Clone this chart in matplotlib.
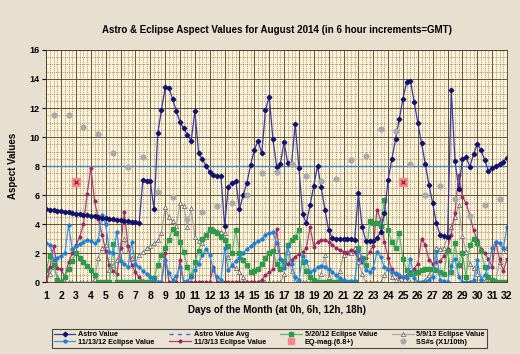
import matplotlib
matplotlib.use("Agg")
import matplotlib.pyplot as plt
from matplotlib.lines import Line2D
import numpy as np

plt.rcParams['font.family'] = ['Liberation Sans', 'DejaVu Sans']
plt.rcParams['font.weight'] = 'bold'

# one value every 6 hours, 1 Aug 0h .. 32 (1 Sep 0h)
days = np.arange(125) / 4.0 + 1

astro = [5.05, 5.01, 4.97, 4.93, 4.89, 4.86, 4.82, 4.78,
         4.74, 4.70, 4.67, 4.63, 4.59, 4.55, 4.51, 4.47,
         4.44, 4.40, 4.36, 4.32, 4.28, 4.24, 4.21, 4.17,
         4.13, 4.09, 7.05, 7.00, 6.95, 5.03, 10.27, 11.87,
         13.43, 13.40, 12.60, 11.80, 11.02, 10.60, 10.15, 9.74,
         11.80, 8.89, 8.48, 8.02, 7.60, 7.40, 7.35, 7.35,
         3.90, 6.60, 6.85, 7.00, 5.04, 6.02, 6.85, 8.09,
         9.12, 9.74, 8.89, 11.87, 12.79, 9.85, 7.97, 8.16,
         9.65, 8.20, 8.16, 10.90, 7.90, 4.69, 4.07, 5.33,
         6.66, 8.02, 6.55, 4.99, 3.60, 3.04, 3.00, 3.00,
         3.00, 2.97, 2.97, 2.95, 6.14, 3.84, 2.88, 2.88,
         2.88, 3.04, 3.50, 4.76, 7.05, 8.48, 9.85, 11.23,
         12.65, 13.80, 13.89, 12.44, 11.00, 9.58, 8.16, 6.71,
         5.45, 4.07, 3.27, 3.20, 3.10, 13.25, 8.38, 6.40,
         8.52, 8.61, 7.97, 8.82, 9.53, 9.12, 8.43, 7.65,
         7.86, 8.02, 8.16, 8.31, 8.57]
astro_avg = 8.0

ecl_5_20_12 = [0.86, 1.85, 1.20, 0.20, 0.05, 0.40, 0.95, 1.50,
               2.05, 1.70, 1.40, 1.15, 0.86, 0.50, 0.00, 0.00,
               0.00, 0.00, 2.65, 0.00, 0.00, 0.00, 0.00, 0.00,
               0.00, 0.00, 0.00, 0.00, 0.00, 0.30, 1.20, 1.90,
               2.35, 2.90, 3.70, 3.40, 2.80, 2.10, 1.04, 0.45,
               1.40, 2.20, 3.00, 3.30, 3.70, 3.55, 3.40, 3.15,
               2.90, 2.50, 2.00, 3.60, 2.05, 1.55, 1.20, 0.75,
               0.80, 0.90, 1.30, 1.70, 2.05, 2.20, 1.30, 0.90,
               1.50, 2.60, 2.90, 3.10, 3.60, 1.40, 0.80, 0.40,
               0.15, 0.05, 0.00, 0.00, 0.00, 0.00, 0.00, 0.00,
               0.00, 0.00, 0.00, 0.00, 2.35, 1.70, 1.20, 4.20,
               4.10, 4.07, 3.90, 5.70, 3.60, 2.80, 2.40, 3.40,
               1.60, 0.86, 0.60, 0.65, 0.75, 0.85, 0.90, 0.95,
               0.90, 0.85, 0.75, 0.60, 2.20, 0.70, 2.70, 1.20,
               2.00, 0.40, 2.60, 3.00, 2.70, 2.20, 1.10, 0.40,
               0.15, 0.05, 0.00, 0.00, 0.00]

ecl_5_9_13 = [0.00, 0.60, 1.10, 0.40, 0.00, 0.00, 0.00, 0.00,
              0.00, 0.00, 0.00, 0.00, 0.00, 0.25, 1.70, 2.35,
              2.60, 0.86, 1.20, 1.55, 2.20, 3.00, 2.20, 1.70,
              1.30, 1.90, 2.10, 2.35, 2.50, 2.70, 2.90, 3.40,
              5.17, 4.50, 4.20, 3.90, 5.45, 5.26, 3.84, 5.10,
              3.10, 2.88, 2.74, 3.15, 3.60, 3.70, 3.55, 3.50,
              3.40, 1.73, 1.20, 0.97, 0.75, 0.40, 0.06, 0.00,
              0.00, 0.00, 0.00, 0.00, 0.00, 0.00, 0.00, 0.00,
              0.60, 2.12, 0.80, 0.10, 0.00, 0.00, 0.00, 0.00,
              0.00, 0.00, 0.60, 1.90, 0.40, 0.00, 0.00, 0.80,
              1.90, 2.10, 2.00, 2.40, 1.40, 0.60, 0.00, 0.00,
              0.00, 0.00, 0.00, 0.50, 1.00, 0.40, 0.20, 0.10,
              0.00, 0.00, 0.00, 0.00, 0.00, 0.00, 0.20, 0.50,
              0.90, 2.40, 2.30, 2.40, 3.10, 3.80, 4.50, 5.30,
              3.20, 2.10, 1.30, 1.00, 0.60, 0.30, 0.10, 0.00,
              0.00, 0.20, 1.40, 2.20, 2.40]

ecl_11_13_12 = [2.70, 2.60, 1.55, 1.70, 1.85, 2.00, 3.95, 2.30,
                2.50, 2.65, 2.80, 2.95, 2.85, 2.70, 2.90, 4.65,
                4.00, 2.10, 2.00, 3.45, 1.50, 1.30, 1.05, 2.80,
                1.30, 1.05, 0.80, 0.60, 0.40, 0.20, 0.05, 0.00,
                1.55, 0.65, 0.20, 0.45, 1.05, 0.05, 0.10, 0.40,
                0.85, 1.30, 1.90, 2.30, 1.90, 0.85, 0.40, 0.15,
                2.35, 0.85, 1.20, 1.50, 1.70, 2.00, 2.30, 2.50,
                2.70, 2.85, 3.00, 3.30, 3.40, 3.45, 2.70, 1.60,
                1.00, 2.50, 1.30, 0.40, 0.17, 1.80, 1.50, 0.75,
                0.86, 1.04, 1.13, 1.10, 0.90, 0.75, 0.50, 0.30,
                0.17, 0.06, 0.10, 0.10, 2.20, 1.65, 0.85, 0.75,
                1.00, 2.10, 1.75, 1.05, 0.90, 0.75, 0.65, 0.50,
                0.40, 0.30, 1.65, 0.30, 0.05, 0.05, 0.05, 0.15,
                0.40, 2.10, 0.15, 0.10, 0.05, 1.15, 1.65, 0.40,
                0.05, 0.05, 0.05, 0.15, 1.55, 0.15, 0.50, 1.10,
                2.35, 2.80, 2.70, 2.35, 3.80]

ecl_11_3_13 = [0.00, 1.05, 2.50, 1.00, 0.90, 0.40, 1.40, 2.00,
               2.55, 3.15, 4.00, 6.10, 7.90, 5.60, 4.40, 3.30,
               2.20, 1.20, 0.80, 0.60, 2.40, 4.85, 2.50, 1.20,
               0.70, 0.35, 0.10, 0.00, 0.00, 0.00, 0.00, 0.00,
               2.05, 0.00, 0.00, 0.00, 1.55, 0.00, 0.00, 0.00,
               0.00, 0.00, 0.00, 0.00, 0.00, 1.10, 0.00, 0.00,
               0.00, 0.00, 0.00, 0.00, 0.00, 0.00, 0.00, 0.00,
               0.00, 0.00, 0.20, 0.50, 0.70, 0.90, 3.70, 1.60,
               1.10, 1.30, 1.55, 1.78, 1.96, 2.10, 2.35, 3.84,
               2.47, 2.80, 2.92, 2.92, 2.80, 2.58, 2.35, 2.24,
               2.12, 2.05, 2.25, 2.10, 1.60, 1.43, 1.70, 2.10,
               2.50, 5.00, 4.30, 2.80, 1.70, 0.90, 0.60, 0.40,
               0.35, 0.50, 0.70, 0.95, 1.30, 3.00, 2.60, 1.55,
               1.30, 1.40, 1.50, 1.80, 2.30, 3.30, 4.80, 7.40,
               5.90, 5.45, 4.60, 3.60, 2.90, 2.30, 2.00, 1.60,
               1.10, 2.80, 1.60, 0.80, 1.60]

eq_days = [3.0, 25.0]
eq_mag = [6.9, 6.9]

ss_days = [1.5, 2.5, 3.5, 4.5, 5.5, 6.5, 7.5, 8.5, 9.5, 10.5, 11.5,
           12.5, 13.5, 14.5, 15.5, 16.5, 17.5, 18.5, 19.5, 20.5, 21.5,
           22.5, 23.5, 24.5, 25.5, 26.5, 27.5, 28.5, 29.5, 30.5, 31.5]
ss_vals = [11.53, 11.53, 10.72, 10.22, 8.93, 7.93, 8.62, 6.20, 5.88, 4.40,
           4.87, 5.26, 5.49, 6.02, 7.53, 7.63, 8.16, 7.33, 7.00, 7.10, 8.43,
           8.70, 10.54, 10.45, 8.16, 6.02, 6.64, 5.76, 4.60, 5.36, 5.73]

fig = plt.figure(figsize=(5.2, 3.54), dpi=100)
fig.patch.set_facecolor('#e7e0d1')
ax = fig.add_axes([0.089, 0.202, 0.886, 0.657])
ax.set_facecolor('#fdf3d8')

ax.set_xlim(1, 32)
ax.set_ylim(0, 16)
ax.set_xticks(range(1, 33))
ax.set_xticks(np.arange(1, 32.01, 0.25), minor=True)
ax.set_yticks(range(0, 17, 2))
ax.set_yticks(np.arange(0, 16.01, 0.5), minor=True)
ax.grid(which='major', color='#4a3c28', linewidth=0.6)
ax.grid(which='minor', color='#7a6a50', linewidth=0.45, linestyle=(0, (1.5, 1.5)))
ax.set_axisbelow(True)
ax.tick_params(axis='x', which='both', length=0, labelsize=7.5, pad=6)
ax.tick_params(axis='y', which='major', length=3, labelsize=6.5, pad=2)
ax.tick_params(axis='y', which='minor', length=0)
for s in ax.spines.values():
    s.set_color('#4a3c28')
    s.set_linewidth(0.6)

ax.plot(days, ecl_5_9_13, color='#a8a8a8', lw=0.9, marker='^', ms=3.0,
        mfc='white', mec='#555555', mew=0.5, label='5/9/13 Eclipse Value')
ax.plot(days, ecl_11_3_13, color='#b04070', lw=0.9, marker='o', ms=1.9,
        mfc='#9a2860', mec='#9a2860', label='11/3/13 Eclipse Value')
ax.plot(days, ecl_5_20_12, color='#5cb870', lw=0.9, marker='s', ms=2.6,
        mfc='#2e9a4a', mec='#2e9a4a', label='5/20/12 Eclipse Value')
ax.plot(days, ecl_11_13_12, color='#3a96e0', lw=0.9, marker='o', ms=2.1,
        mfc='#1f7fd0', mec='#1f7fd0', label='11/13/12 Eclipse Value')
ax.axhline(astro_avg, color='#4a88c8', lw=1.0)
ax.plot(days, astro, color='#3a3aa0', lw=0.9, marker='D', ms=2.3,
        mfc='#12126e', mec='#12126e', label='Astro Value')
ax.plot(ss_days, ss_vals, ls='none', marker='o', ms=3.4,
        mfc='#a9a9a9', mec='#a9a9a9', label='SS#s (X1/10th)')
ax.plot(eq_days, eq_mag, ls='none', marker='s', ms=6,
        mfc='#f28a8a', mec='#f28a8a', label='EQ-mag.(6.8+)')
ax.plot(eq_days, eq_mag, ls='none', marker='x', ms=3, mec='#8a1010', mew=0.8)

ax.set_title('Astro & Eclipse Aspect Values for August 2014 (in 6 hour increments=GMT)',
             fontsize=7, fontweight='bold', pad=12)
ax.set_ylabel('Aspect Values', fontsize=7, fontweight='bold', labelpad=8)
ax.set_xlabel('Days of the Month (at 0h, 6h, 12h, 18h)', fontsize=7,
              fontweight='bold', labelpad=3)

h_astro = Line2D([], [], color='#3a3aa0', lw=0.9, marker='D', ms=2.3,
                 mfc='#12126e', mec='#12126e')
h_avg = Line2D([], [], color='#3a6ec8', lw=1.0, ls=(0, (3, 3)))
h_g = Line2D([], [], color='#5cb870', lw=0.9, marker='s', ms=2.6,
             mfc='#2e9a4a', mec='#2e9a4a')
h_t = Line2D([], [], color='#a8a8a8', lw=0.9, marker='^', ms=3.0,
             mfc='white', mec='#555555', mew=0.5)
h_b = Line2D([], [], color='#3a96e0', lw=0.9, marker='o', ms=2.1,
             mfc='#1f7fd0', mec='#1f7fd0')
h_m = Line2D([], [], color='#b04070', lw=0.9, marker='o', ms=1.9,
             mfc='#9a2860', mec='#9a2860')
h_eq = Line2D([], [], ls='none', marker='s', ms=5, mfc='#f28a8a', mec='#f28a8a')
h_ss = Line2D([], [], ls='none', marker='o', ms=3.4, mfc='#a9a9a9', mec='#a9a9a9')
handles = [h_astro, h_b, h_avg, h_m, h_g, h_eq, h_t, h_ss]
labels = ['Astro Value', '11/13/12 Eclipse Value', 'Astro Value Avg',
          '11/3/13 Eclipse Value', '5/20/12 Eclipse Value', 'EQ-mag.(6.8+)',
          '5/9/13 Eclipse Value', 'SS#s (X1/10th)']
leg = fig.legend(handles, labels, ncol=4, loc='lower center',
                 bbox_to_anchor=(0.518, 0.008), fontsize=5.2, frameon=True,
                 fancybox=False, edgecolor='#202020', facecolor='#ece5d6',
                 handlelength=3.0, columnspacing=2.0, labelspacing=0.05,
                 borderpad=0.25, handletextpad=0.4)
leg.get_frame().set_linewidth(0.8)

fig.savefig('out.png', dpi=100, facecolor=fig.get_facecolor())
